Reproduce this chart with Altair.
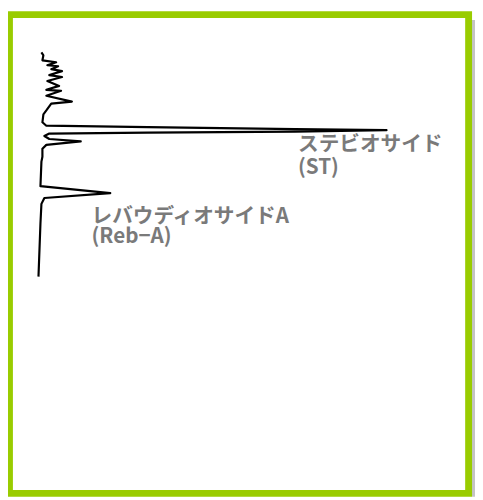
import altair as alt
import pandas as pd

# Chromatogram trace (vertical): retention time (min, downward) vs detector signal
time_min = [3.5, 3.8, 4.3, 4.5, 4.8, 4.9, 5.2, 5.4, 5.8, 6.0, 6.4, 6.9, 7.3, 7.4, 7.9,
            8.5, 8.7, 9.4, 9.8, 10.6, 10.95, 11.1, 11.3, 11.4, 11.55, 11.65, 11.75,
            12.0, 12.3, 12.55, 12.9, 13.3, 14.1, 14.6, 17.1, 17.8, 18.3, 18.9, 20.9, 26.3]
signal = [2.9, 3.1, 3.0, 4.4, 3.5, 4.6, 3.9, 5.0, 3.7, 5.0, 3.5, 4.7, 3.4, 4.9, 3.4,
          6.0, 3.9, 3.4, 3.1, 3.0, 3.4, 13.7, 28.7, 38.0, 28.7, 13.7, 3.7,
          3.2, 3.7, 6.9, 3.4, 3.0, 3.0, 2.9, 2.8, 9.9, 3.2, 2.9, 2.8, 2.6]

st_label = ["ステビオサイド\n(ST)"]
st_time = [11.8]
st_signal = [29.0]
reba_label = ["レバウディオサイドA\n(Reb−A)"]
reba_time = [19.1]
reba_signal = [8.0]

W, H = 460, 480
GREEN = "#99CC00"

trace = pd.DataFrame({"time": time_min, "signal": signal, "i": range(len(signal))})
st = pd.DataFrame({"text": st_label, "time": st_time, "signal": st_signal})
reba = pd.DataFrame({"text": reba_label, "time": reba_time, "signal": reba_signal})

xs = alt.Scale(domain=[0, 46], nice=False, zero=False)
ys = alt.Scale(domain=[0, 48], nice=False, zero=False, reverse=True)

one = alt.Data(values=[{"k": 1}])

frame = alt.Chart(one).mark_rect(color=GREEN).encode(
    x=alt.value(-7), x2=alt.value(W + 7), y=alt.value(-7), y2=alt.value(H + 7))
shadow = alt.Chart(one).mark_rect(color="#c4c4c4").encode(
    x=alt.value(W + 7), x2=alt.value(W + 10), y=alt.value(2), y2=alt.value(H + 7))
inner = alt.Chart(one).mark_rect(color="white").encode(
    x=alt.value(0), x2=alt.value(W), y=alt.value(0), y2=alt.value(H))

line = alt.Chart(trace).mark_line(color="black", strokeWidth=2.2, strokeJoin="round").encode(
    x=alt.X("signal:Q", scale=xs, axis=None),
    y=alt.Y("time:Q", scale=ys, axis=None),
    order="i:Q",
)

def label(df, lh):
    return alt.Chart(df).mark_text(
        align="left", baseline="top", font="Noto Sans CJK JP", fontWeight="bold",
        fontSize=21, color="#7a7a7a", lineBreak="\n", lineHeight=lh,
    ).encode(
        x=alt.X("signal:Q", scale=xs, axis=None),
        y=alt.Y("time:Q", scale=ys, axis=None),
        text="text:N",
    )

chart = alt.layer(shadow, frame, inner, line, label(st, 24), label(reba, 21)).properties(
    width=W, height=H,
    padding={"left": 5, "top": 6, "right": 10, "bottom": 7},
    autosize=alt.AutoSizeParams(type="none"),
    background="white",
).configure_view(stroke=None)

chart.save("out.html", embed_options={"renderer": "svg", "actions": False})
